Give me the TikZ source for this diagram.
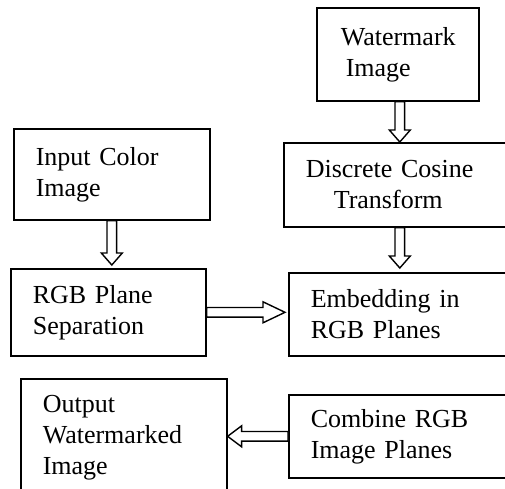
\documentclass[tikz,border=0pt]{standalone}
\usepackage{fontspec}
\setmainfont{Liberation Serif}
\usetikzlibrary{calc}

% hollow block arrow from #2 to #3, #1 = length of the head
\newcommand{\hollowarrow}[3][12pt]{%
  \coordinate (ba-s) at (#2);
  \coordinate (ba-t) at (#3);
  \coordinate (ba-h) at ($(ba-t)!#1!(ba-s)$);
  \draw[arrowline] ($(ba-s)!4.8pt!90:(ba-t)$) -- ($(ba-h)!4.8pt!90:(ba-t)$)
    -- ($(ba-h)!10.5pt!90:(ba-t)$) -- (ba-t) -- ($(ba-h)!10.5pt!-90:(ba-t)$)
    -- ($(ba-h)!4.8pt!-90:(ba-t)$) -- ($(ba-s)!4.8pt!-90:(ba-t)$) -- cycle;}

\begin{document}
\begin{tikzpicture}[x=1pt,y=-1pt,
  box/.style={draw,line width=1.6pt,rectangle,anchor=north west,align=left,
    inner xsep=22pt,inner ysep=0pt,font=\fontsize{26}{31}\selectfont},
  arrowline/.style={draw,line width=1.4pt,fill=white,line join=miter}]
  \clip (0,0) rectangle (505,488);

  % Draw the boxes
  \node[box,text width=114pt,inner xsep=24pt,minimum height=93pt] (wm) at (316,7)
    {Watermark\\\hspace*{5pt}Image};
  \node[box,text width=152pt,minimum height=91pt] (in) at (13,128)
    {Input Color\\Image};
  \node[box,text width=188pt,minimum height=84pt] (dct) at (283,142)
    {Discrete Cosine\\\hspace*{28pt}Transform};
  \node[box,text width=151pt,minimum height=87pt] (rgb) at (10,268)
    {RGB Plane\\Separation};
  \node[box,text width=183pt,minimum height=83pt] (emb) at (288,272)
    {Embedding in\\RGB Planes};
  \node[box,text width=162pt,minimum height=117pt] (out) at (20,378)
    {Output\\Watermarked\\Image};
  \node[box,text width=183pt,minimum height=83pt] (cmb) at (288,394)
    {Combine RGB\\Image Planes};

  % Draw the arrows
  \coordinate (wmc) at ([xshift=2pt]wm.south);
  \hollowarrow{wmc}{wmc |- dct.north}
  \hollowarrow{wmc |- dct.south}{[yshift=4pt]wmc |- emb.north}
  \hollowarrow{in.south}{[yshift=3pt]in.south |- rgb.north}
  \hollowarrow[22pt]{rgb.east}{[xshift=-3pt]rgb.east -| emb.west}
  \hollowarrow[14pt]{cmb.west}{cmb.west -| out.east}
\end{tikzpicture}
\end{document}
